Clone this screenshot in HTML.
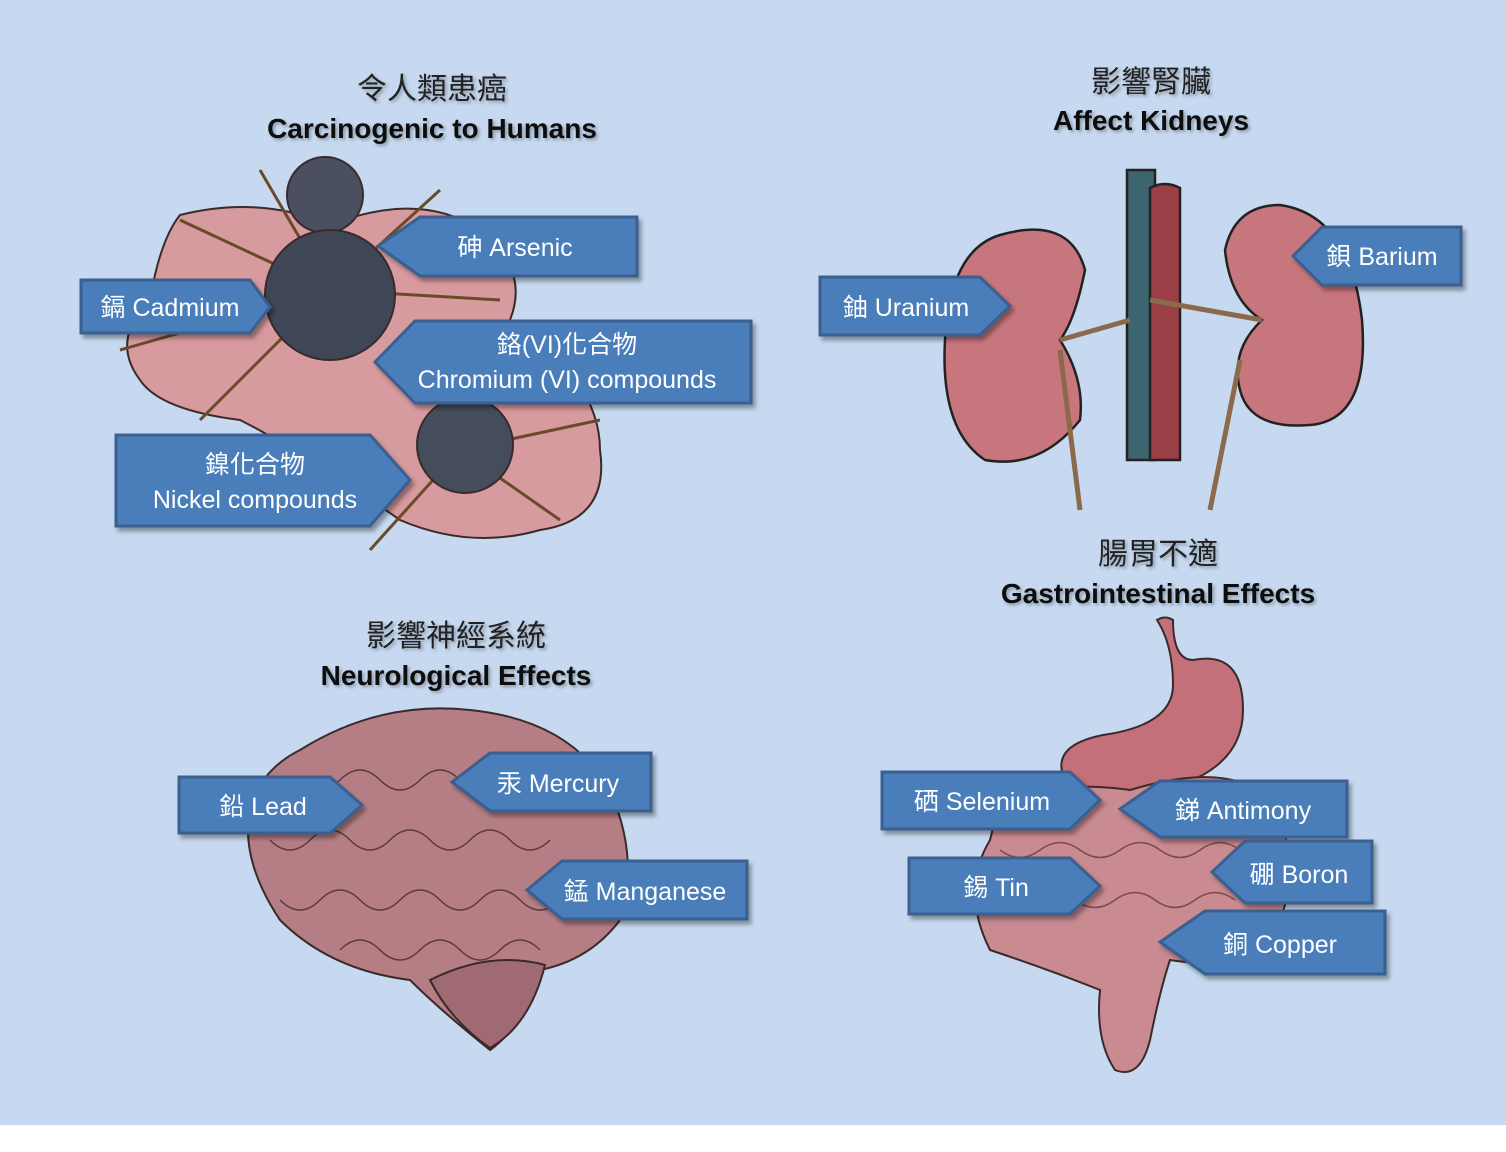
<!DOCTYPE html>
<html><head><meta charset="utf-8"><style>
html,body{margin:0;padding:0;background:#fff}
svg{display:block}
.t{font-family:"Liberation Sans","Noto Sans CJK TC",sans-serif;text-anchor:middle}
.h{font-size:28px;font-weight:bold;fill:#111}
.c{font-size:30px;fill:#222}
.l{font-size:25px;fill:#fff}
</style></head><body>
<svg width="1506" height="1152" viewBox="0 0 1506 1152" xmlns="http://www.w3.org/2000/svg">
<defs>
<filter id="sh" x="-10%" y="-10%" width="130%" height="140%"><feDropShadow dx="3" dy="4" stdDeviation="2" flood-color="#000" flood-opacity="0.35"/></filter>
<filter id="ts"><feDropShadow dx="2" dy="2" stdDeviation="1.5" flood-color="#000" flood-opacity="0.3"/></filter>
</defs>
<rect width="1506" height="1125" fill="#c6d9f0"/>

<!-- titles -->
<g class="t" filter="url(#ts)">
<text x="432" y="99" class="c">令人類患癌</text>
<text x="432" y="138" class="h">Carcinogenic to Humans</text>
<text x="1151" y="92" class="c">影響腎臟</text>
<text x="1151" y="130" class="h">Affect Kidneys</text>
<text x="1158" y="564" class="c">腸胃不適</text>
<text x="1158" y="603" class="h">Gastrointestinal Effects</text>
<text x="456" y="646" class="c">影響神經系統</text>
<text x="456" y="685" class="h">Neurological Effects</text>
</g>

<!-- tumor -->
<g stroke="#3a2a2a" stroke-width="2">
<path d="M180 215 Q260 195 330 225 Q420 190 480 230 Q530 270 510 320 Q600 380 600 450 Q610 520 540 530 Q470 550 400 520 Q300 450 240 420 Q160 410 140 380 Q110 340 150 300 Q160 240 180 215Z" fill="#d79a9e"/>
<g stroke="#6b4a2a" stroke-width="3" fill="none">
<path d="M330 290 L180 220 M330 290 L120 350 M330 290 L200 420 M330 290 L440 190 M330 290 L500 300 M460 450 L370 550 M460 450 L600 420 M460 450 L560 520 M330 290 L260 170"/>
</g>
<circle cx="325" cy="195" r="38" fill="#4a5060"/>
<circle cx="330" cy="295" r="65" fill="#3f4656"/>
<circle cx="465" cy="445" r="48" fill="#454c5c"/>
</g>

<!-- kidneys -->
<g stroke="#222" stroke-width="2.5">
<path d="M1127 170 h28 v290 h-28Z" fill="#3d6570"/>
<path d="M1150 188 q15 -8 30 0 v272 h-30Z" fill="#9a3f45"/>
<path d="M1000 235 Q1070 215 1085 270 Q1075 320 1060 340 Q1085 380 1080 420 Q1040 470 985 460 Q940 430 945 340 Q950 250 1000 235Z" fill="#c7767d"/>
<path d="M1280 205 Q1350 215 1362 320 Q1370 420 1310 425 Q1250 430 1240 390 Q1230 350 1262 320 Q1230 300 1225 250 Q1235 205 1280 205Z" fill="#c7767d"/>
<path d="M1060 340 L1130 320 M1060 350 L1080 510 M1262 320 L1150 300 M1240 360 L1210 510" stroke="#8a6a4a" stroke-width="5" fill="none"/>
</g>

<!-- brain -->
<g stroke="#3a2a2a" stroke-width="2">
<path d="M300 750 Q380 700 470 710 Q570 720 610 790 Q640 860 620 920 Q590 960 540 970 Q520 1030 490 1050 Q440 1010 410 980 Q330 970 280 920 Q240 860 250 810 Q260 770 300 750Z" fill="#b57e85"/>
<path d="M430 980 Q490 950 545 965 Q530 1025 490 1048 Q450 1020 430 980Z" fill="#a06a72"/>
<g fill="none" stroke="#5a3a3a" stroke-width="1.5">
<path d="M300 780 q20 20 40 0 t40 0 t40 0 t40 0 t40 0 t40 0"/><path d="M270 840 q20 20 40 0 t40 0 t40 0 t40 0 t40 0 t40 0 t40 0"/><path d="M280 900 q20 20 40 0 t40 0 t40 0 t40 0 t40 0 t40 0 t40 0"/><path d="M340 950 q20 -20 40 0 t40 0 t40 0 t40 0 t40 0"/>
</g>
</g>

<!-- GI -->
<g stroke="#3a2a2a" stroke-width="2">
<path d="M1157 620 q8 -5 16 0 q0 40 20 40 q50 -10 50 50 q0 60 -80 80 q-40 10 -60 10 q-30 0 -40 -25 q-10 -30 40 -40 q70 -10 70 -50 q0 -40 -16 -65z" fill="#c4707a"/>
<path d="M1000 800 Q1060 780 1130 790 Q1230 760 1270 800 Q1310 870 1270 940 Q1230 970 1170 960 Q1160 990 1150 1040 Q1140 1080 1115 1070 Q1095 1040 1100 990 Q1050 970 990 950 Q960 890 990 840 Z" fill="#c98a92"/>
<g fill="none" stroke="#7a4a4a" stroke-width="1.5"><path d="M1000 850 q20 15 40 0 t40 0 t40 0 t40 0 t40 0 t40 0"/><path d="M995 900 q20 15 40 0 t40 0 t40 0 t40 0 t40 0 t40 0"/></g>
</g>

<!-- callouts -->
<g fill="#4a7ebb" stroke="#3a5f8f" stroke-width="3" filter="url(#sh)">
<path d="M420 217 H637 V276 H420 L378 246Z"/>
<path d="M415 321 H751 V403 H415 L375 362Z"/>
<path d="M1322 227 H1461 V285 H1322 L1293 256Z"/>
<path d="M490 753 H651 V811 H490 L452 782Z"/>
<path d="M562 861 H747 V919 H562 L527 890Z"/>
<path d="M1160 781 H1347 V837 H1160 L1120 809Z"/>
<path d="M1245 841 H1372 V903 H1245 L1212 872Z"/>
<path d="M1205 911 H1385 V974 H1205 L1160 942Z"/>
<path d="M81 280 H250 L270 307 L250 333 H81Z"/>
<path d="M116 435 H370 L410 480 L370 526 H116Z"/>
<path d="M820 277 H980 L1010 306 L980 335 H820Z"/>
<path d="M179 777 H330 L362 805 L330 833 H179Z"/>
<path d="M882 772 H1070 L1100 800 L1070 829 H882Z"/>
<path d="M909 858 H1070 L1100 886 L1070 914 H909Z"/>
</g>
<g class="t l">
<text x="515" y="256">砷 Arsenic</text>
<text x="567" y="353">鉻(VI)化合物</text>
<text x="567" y="388">Chromium (VI) compounds</text>
<text x="1382" y="265">鋇 Barium</text>
<text x="558" y="792">汞 Mercury</text>
<text x="645" y="900">錳 Manganese</text>
<text x="1243" y="819">銻 Antimony</text>
<text x="1299" y="883">硼 Boron</text>
<text x="1280" y="953">銅 Copper</text>
<text x="170" y="316">鎘 Cadmium</text>
<text x="255" y="473">鎳化合物</text>
<text x="255" y="508">Nickel compounds</text>
<text x="906" y="316">鈾 Uranium</text>
<text x="263" y="815">鉛 Lead</text>
<text x="982" y="810">硒 Selenium</text>
<text x="996" y="896">錫 Tin</text>
</g>
</svg>
</body></html>
